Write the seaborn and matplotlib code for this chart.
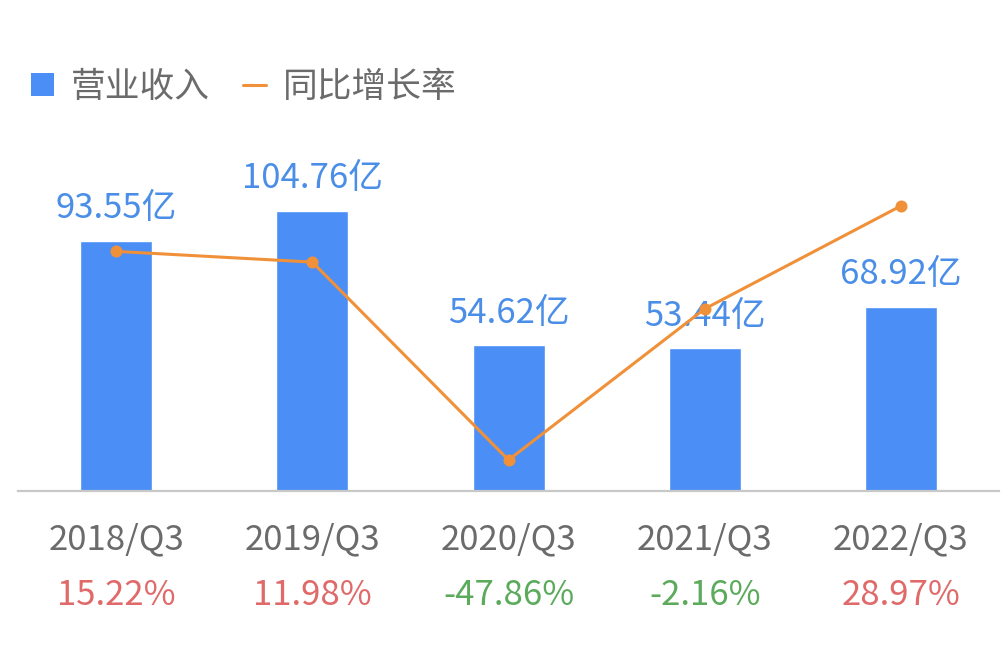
import seaborn as sns
import matplotlib.pyplot as plt
from matplotlib.patches import Patch
from matplotlib.lines import Line2D

# chart data
quarters = ['2018/Q3', '2019/Q3', '2020/Q3', '2021/Q3', '2022/Q3']
revenue = [93.55, 104.76, 54.62, 53.44, 68.92]
growth = [15.22, 11.98, -47.86, -2.16, 28.97]

blue = '#4a8ef6'
orange = '#f0913a'
gray = '#6b6b6b'
red = '#e06a6a'
green = '#5cab5c'

sns.set_style('white')
plt.rcParams['font.family'] = ['Noto Sans CJK SC', 'DejaVu Sans']

fig = plt.figure(figsize=(10.03, 6.46), dpi=100)
ax = fig.add_axes([0.018, 0.24, 0.978, 0.528])

sns.barplot(x=quarters, y=revenue, color=blue, width=0.367, saturation=1, ax=ax)
ax.set_ylim(0, 127.6)
ax.set_xlim(-0.5, 4.5)

for s in ['top', 'right', 'left']:
    ax.spines[s].set_visible(False)
ax.spines['bottom'].set_color('#c8c8c8')
ax.spines['bottom'].set_linewidth(1.6)
ax.set_yticks([])
ax.set_xticks([])
ax.set_xlabel('')
ax.set_ylabel('')

# value labels above bars
for i, v in enumerate(revenue):
    ax.annotate(f'{v:.2f}亿', xy=(i, v), xytext=(0, 23), textcoords='offset points',
                ha='center', va='center', fontsize=25, color='#4a8ee8')

# category + growth labels under the axis
for i, (q, g) in enumerate(zip(quarters, growth)):
    ax.annotate(q, xy=(i, 0), xycoords=('data', 'axes fraction'), xytext=(0, -35),
                textcoords='offset points', ha='center', va='center', fontsize=25, color=gray)
    ax.annotate(f'{g:.2f}%', xy=(i, 0), xycoords=('data', 'axes fraction'), xytext=(0, -75),
                textcoords='offset points', ha='center', va='center', fontsize=25,
                color=red if g > 0 else green)

ax2 = ax.twinx()
sns.pointplot(x=quarters, y=growth, color=orange, markers='o', markersize=7,
              linewidth=2.2, ax=ax2)
ax2.set_ylim(-57.23, 45.92)
ax2.set_xlim(-0.5, 4.5)
ax2.axis('off')

handles = [Patch(facecolor=blue, edgecolor='none'),
           Line2D([0], [0], color=orange, lw=2.2)]
fig.legend(handles, ['营业收入', '同比增长率'], loc='center left',
           bbox_to_anchor=(0.031, 0.865), frameon=False, ncol=2, fontsize=25,
           handlelength=0.65, handleheight=0.65, handletextpad=0.5,
           columnspacing=0.95, borderpad=0, borderaxespad=0, labelcolor=gray)

fig.savefig('out.png', dpi=100)
